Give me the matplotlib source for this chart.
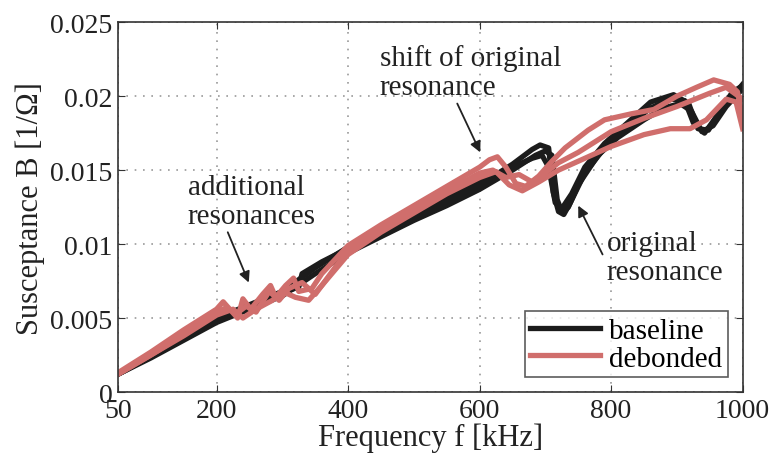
import matplotlib
matplotlib.use("Agg")
import matplotlib.pyplot as plt

plt.rcParams['font.family'] = ['Liberation Serif', 'DejaVu Serif']

# baseline measurements (black)
b1_f = [50, 100, 150, 200, 250, 300, 325, 330, 360, 400, 450, 500, 550, 600, 650, 680, 692, 705, 712, 720, 728, 738, 760, 790, 820, 860, 890, 912, 925, 942, 960, 985, 1000]
b1_B = [0.0012, 0.0024, 0.0036, 0.0049, 0.0058, 0.0067, 0.0071, 0.0080, 0.0088, 0.0097, 0.0108, 0.0119, 0.0129, 0.0140, 0.0154, 0.0164, 0.0167, 0.0165, 0.0135, 0.0122, 0.0120, 0.0128, 0.0148, 0.0165, 0.0178, 0.0192, 0.0198, 0.0197, 0.0182, 0.0175, 0.0186, 0.0200, 0.0208]
b2_f = [50, 100, 150, 200, 250, 300, 350, 400, 450, 500, 550, 600, 650, 685, 700, 710, 718, 726, 735, 750, 780, 810, 850, 880, 905, 922, 938, 955, 975, 1000]
b2_B = [0.0012, 0.0023, 0.0035, 0.0047, 0.0056, 0.0065, 0.0080, 0.0094, 0.0105, 0.0116, 0.0126, 0.0137, 0.0150, 0.0160, 0.0163, 0.0160, 0.0130, 0.0121, 0.0125, 0.0140, 0.0160, 0.0172, 0.0184, 0.0192, 0.0195, 0.0190, 0.0176, 0.0180, 0.0193, 0.0205]
b3_f = [50, 100, 150, 200, 250, 300, 350, 400, 450, 500, 550, 600, 650, 680, 695, 705, 715, 725, 740, 760, 790, 820, 860, 895, 918, 932, 948, 965, 985, 1000]
b3_B = [0.0012, 0.0024, 0.0037, 0.0050, 0.0059, 0.0068, 0.0084, 0.0098, 0.0110, 0.0121, 0.0131, 0.0142, 0.0152, 0.0158, 0.0160, 0.0152, 0.0128, 0.0124, 0.0134, 0.0152, 0.0168, 0.0180, 0.0196, 0.0201, 0.0195, 0.0178, 0.0177, 0.0190, 0.0203, 0.0207]

# debonded measurements (red)
r1_f = [50, 100, 150, 200, 210, 220, 232, 240, 252, 270, 282, 290, 305, 317, 325, 345, 360, 400, 450, 500, 550, 600, 615, 627, 640, 655, 670, 690, 710, 730, 765, 790, 830, 865, 900, 930, 956, 980, 992, 1000]
r1_B = [0.0013, 0.0027, 0.0042, 0.0056, 0.0061, 0.0056, 0.0050, 0.0063, 0.0056, 0.0066, 0.0072, 0.0064, 0.0072, 0.0077, 0.0068, 0.0070, 0.0080, 0.0099, 0.0113, 0.0126, 0.0139, 0.0152, 0.0157, 0.0159, 0.0152, 0.0141, 0.0139, 0.0146, 0.0156, 0.0165, 0.0177, 0.0184, 0.0188, 0.0191, 0.0200, 0.0206, 0.0211, 0.0208, 0.0203, 0.0186]
r2_f = [50, 100, 150, 200, 215, 230, 245, 260, 280, 295, 310, 330, 350, 380, 400, 450, 500, 550, 600, 620, 640, 660, 680, 700, 720, 750, 800, 850, 900, 950, 975, 1000]
r2_B = [0.0012, 0.0025, 0.0039, 0.0054, 0.0057, 0.0053, 0.0058, 0.0054, 0.0068, 0.0062, 0.0070, 0.0074, 0.0066, 0.0084, 0.0096, 0.0110, 0.0123, 0.0136, 0.0148, 0.0150, 0.0145, 0.0147, 0.0142, 0.0148, 0.0155, 0.0162, 0.0176, 0.0185, 0.0193, 0.0202, 0.0206, 0.0198]
r3_f = [50, 100, 150, 200, 225, 240, 260, 285, 300, 320, 340, 360, 400, 450, 500, 550, 600, 625, 645, 665, 690, 720, 760, 800, 850, 890, 920, 945, 975, 990, 1000]
r3_B = [0.0012, 0.0025, 0.0038, 0.0052, 0.0056, 0.0050, 0.0056, 0.0062, 0.0068, 0.0064, 0.0062, 0.0072, 0.0093, 0.0108, 0.0121, 0.0134, 0.0145, 0.0149, 0.0140, 0.0136, 0.0142, 0.0150, 0.0158, 0.0166, 0.0174, 0.0178, 0.0178, 0.0184, 0.0198, 0.0196, 0.0178]

xticks = [50, 200, 400, 600, 800, 1000]
yticks = [0, 0.005, 0.01, 0.015, 0.02, 0.025]
ytick_labels = ['0', '0.005', '0.01', '0.015', '0.02', '0.025']

black = '#1c1c1c'
red = '#d06e6c'
txt = '#222222'

fig = plt.figure(figsize=(7.76, 4.64), dpi=100)
ax = fig.add_axes([0.152, 0.153, 0.805, 0.797])

for f, B in [(b1_f, b1_B), (b2_f, b2_B), (b3_f, b3_B)]:
    ax.plot(f, B, color=black, lw=3.8, solid_joinstyle='round')
for f, B in [(r1_f, r1_B), (r2_f, r2_B), (r3_f, r3_B)]:
    ax.plot(f, B, color=red, lw=3.8, solid_joinstyle='round')

ax.set_xlim(50, 1000)
ax.set_ylim(0, 0.025)
ax.set_xticks(xticks)
ax.set_xticklabels([str(t) for t in xticks])
ax.set_yticks(yticks)
ax.set_yticklabels(ytick_labels)
ax.tick_params(direction='in', top=True, right=True, labelsize=20, length=5,
               color='#333333', labelcolor=txt, pad=4)
ax.grid(True, linestyle=(0, (1, 4)), color='#999999', lw=1.2)
for s in ax.spines.values():
    s.set_color('#333333')
    s.set_linewidth(1.2)

ax.set_xlabel('Frequency f [kHz]', fontsize=22, color=txt, labelpad=0)
ax.set_ylabel('Susceptance B [1/Ω]', fontsize=22, color=txt, labelpad=4)

# legend proxies
lb, = ax.plot([], [], color=black, lw=3.8)
lr, = ax.plot([], [], color=red, lw=3.8)
leg = ax.legend([lb, lr], ['baseline', 'debonded'], loc='lower right', fontsize=21,
                frameon=True, fancybox=False, edgecolor='#333333', handlelength=2.4,
                handletextpad=0.3, borderpad=0.2, labelspacing=0.05, borderaxespad=0.5)
leg.get_frame().set_linewidth(1.2)

arrow = dict(arrowstyle='-|>', color=txt, lw=1.3, mutation_scale=16, shrinkA=0, shrinkB=0)
ax.text(156, 0.0129, 'additional\nresonances', fontsize=21, color=txt,
        ha='left', va='center', linespacing=1.15)
ax.annotate('', xy=(249, 0.0074), xytext=(217, 0.0108), arrowprops=arrow)
ax.text(448, 0.0216, 'shift of original\nresonance', fontsize=21, color=txt,
        ha='left', va='center', linespacing=1.15)
ax.annotate('', xy=(601, 0.0162), xytext=(566, 0.0195), arrowprops=arrow)
ax.text(793, 0.0091, 'original\nresonance', fontsize=21, color=txt,
        ha='left', va='center', linespacing=1.15)
ax.annotate('', xy=(750, 0.0126), xytext=(787, 0.0093), arrowprops=arrow)

fig.savefig('out.png', dpi=100)
